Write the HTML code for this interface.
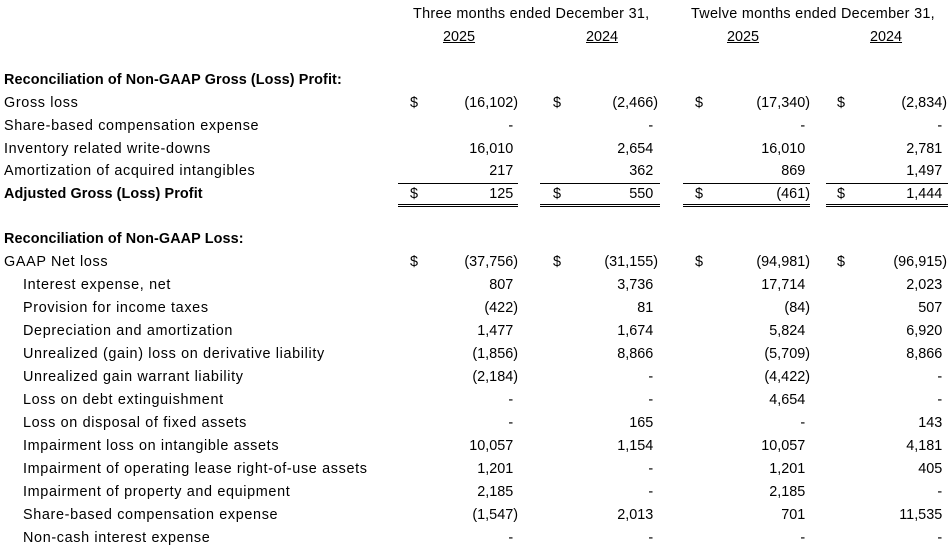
<!DOCTYPE html>
<html><head><meta charset="utf-8"><style>
body{margin:0;width:950px;height:533px;background:#fff;overflow:hidden;position:relative;font-family:"Liberation Sans",Arial,sans-serif;font-size:14.4px;color:#000}
.t{position:absolute;white-space:nowrap;line-height:16px}
.lb{letter-spacing:0.65px}
.b{font-weight:bold;letter-spacing:0.1px}
.r{position:absolute;white-space:nowrap;line-height:16px;text-align:right}
.h{visibility:hidden}
.u{text-decoration:underline}
.ln{position:absolute;height:1px;background:#000}
.dl{position:absolute;height:1px;border-top:1px solid #000;border-bottom:1px solid #000;height:1px}
</style></head><body>
<div class="t" style="left:413px;top:6px;letter-spacing:0.3px">Three months ended December 31,</div>
<div class="t" style="left:691px;top:6px;letter-spacing:0.3px">Twelve months ended December 31,</div>
<div class="t u" style="left:443px;top:29px">2025</div>
<div class="t u" style="left:586px;top:29px">2024</div>
<div class="t u" style="left:727px;top:29px">2025</div>
<div class="t u" style="left:870px;top:29px">2024</div>
<div id="rows"></div>
<script>
var rows=[
[80,"Reconciliation of Non-GAAP Gross (Loss) Profit:",1,0,null],
[103,"Gross loss",0,0,["(16,102)","(2,466)","(17,340)","(2,834)"],1],
[126,"Share-based compensation expense",0,0,["-","-","-","-"]],
[149,"Inventory related write-downs",0,0,["16,010","2,654","16,010","2,781"]],
[171,"Amortization of acquired intangibles",0,0,["217","362","869","1,497"]],
[194,"Adjusted Gross (Loss) Profit",1,0,["125","550","(461)","1,444"],1],
[239,"Reconciliation of Non-GAAP Loss:",1,0,null],
[262,"GAAP Net loss",0,0,["(37,756)","(31,155)","(94,981)","(96,915)"],1],
[285,"Interest expense, net",0,1,["807","3,736","17,714","2,023"]],
[308,"Provision for income taxes",0,1,["(422)","81","(84)","507"]],
[331,"Depreciation and amortization",0,1,["1,477","1,674","5,824","6,920"]],
[354,"Unrealized (gain) loss on derivative liability",0,1,["(1,856)","8,866","(5,709)","8,866"]],
[377,"Unrealized gain warrant liability",0,1,["(2,184)","-","(4,422)","-"]],
[400,"Loss on debt extinguishment",0,1,["-","-","4,654","-"]],
[423,"Loss on disposal of fixed assets",0,1,["-","165","-","143"]],
[446,"Impairment loss on intangible assets",0,1,["10,057","1,154","10,057","4,181"]],
[469,"Impairment of operating lease right-of-use assets",0,1,["1,201","-","1,201","405"]],
[492,"Impairment of property and equipment",0,1,["2,185","-","2,185","-"]],
[515,"Share-based compensation expense",0,1,["(1,547)","2,013","701","11,535"]],
[538,"Non-cash interest expense",0,1,["-","-","-","-"]]
];
var dol=[410,553,695,837],rt=[518,658,810,947];
var h="";
rows.forEach(function(r){
 var y=r[0]-8;
 h+='<div class="t lb'+(r[2]?' b':'')+'" style="left:'+(r[3]?23:4)+'px;top:'+y+'px">'+r[1]+'</div>';
 if(r[4]){for(var i=0;i<4;i++){
  var v=r[4][i];if(v.charAt(0)!="(")v+='<span class="h">)</span>';
  h+='<div class="r" style="right:'+(950-rt[i])+'px;top:'+y+'px">'+v+'</div>';
  if(r[5])h+='<div class="t" style="left:'+dol[i]+'px;top:'+y+'px">$</div>';
 }}
});
var ul=[[398,518],[540,660],[683,810],[826,948]];
ul.forEach(function(u){
 h+='<div class="ln" style="left:'+u[0]+'px;width:'+(u[1]-u[0])+'px;top:183px"></div>';
 h+='<div class="dl" style="left:'+u[0]+'px;width:'+(u[1]-u[0])+'px;top:204px"></div>';
});
document.getElementById("rows").innerHTML=h;
</script>
</body></html>
